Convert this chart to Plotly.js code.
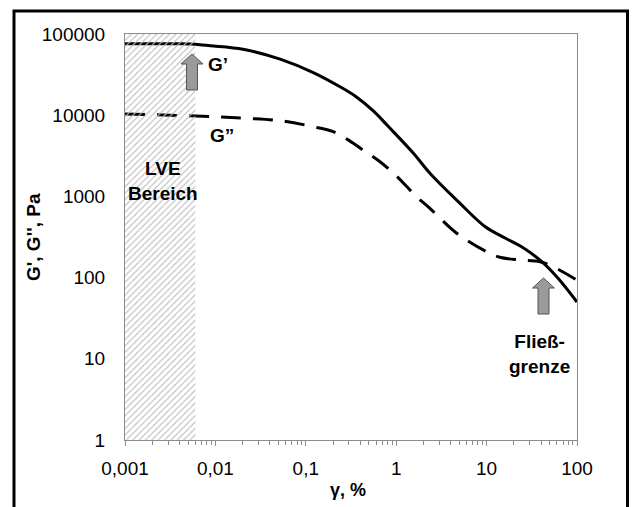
<!DOCTYPE html>
<html>
<head>
<meta charset="utf-8">
<script src="https://cdn.plot.ly/plotly-3.0.1.min.js"></script>
<style>html,body{margin:0;padding:0;background:#fff;}#chart{width:632px;height:507px;}</style>
</head>
<body>
<div id="chart"></div>
<script>
// ---- data ----
const gPrimeX = [0.001, 0.002, 0.004, 0.006, 0.0095, 0.0132, 0.0222, 0.052, 0.121, 0.239, 0.357, 0.558, 0.815, 1.55, 2.36, 5.08, 9.66, 16.2, 24.4, 40.8, 61.7, 100];
const gPrimeY = [76000, 76000, 76000, 75000, 71000, 69000, 63500, 49000, 33500, 22400, 17000, 11300, 7300, 3400, 1930, 822, 423, 305, 240, 157, 98, 50];
const gDoubleX = [0.001, 0.0095, 0.0222, 0.052, 0.121, 0.201, 0.30, 0.43, 0.662, 1.0, 1.68, 2.36, 4.67, 10, 14, 23.4, 39, 54.7, 100];
const gDoubleY = [10350, 9600, 9160, 8550, 7210, 6270, 4900, 3720, 2670, 1800, 990, 713, 352, 208, 178, 165, 157, 136, 93];
const lveRangeX = [0.001, 0.006];
const yRange = [1, 100000];
const xTickVals = [0.001, 0.01, 0.1, 1, 10, 100];
const xTickText = ["0,001", "0,01", "0,1", "1", "10", "100"];
const yTickVals = [1, 10, 100, 1000, 10000, 100000];
const yTickText = ["1", "10", "100", "1000", "10000", "100000"];

// ---- geometry helpers (pixel -> paper) ----
const L = 125, T = 34, W = 452, H = 406;
const px = x => (x - L) / W;
const py = y => (T + H - y) / H;
function arrowPath(cx, tipY) {
  const pts = [[cx, tipY], [cx + 11, tipY + 10], [cx + 5.5, tipY + 10], [cx + 5.5, tipY + 36],
               [cx - 5.5, tipY + 36], [cx - 5.5, tipY + 10], [cx - 11, tipY + 10]];
  return 'M' + pts.map(p => px(p[0]).toFixed(5) + ',' + py(p[1]).toFixed(5)).join(' L') + ' Z';
}

const font = "Liberation Sans, Arial, sans-serif";
function label(x, y, text, size, angle) {
  return {xref: 'paper', yref: 'paper', x: px(x), y: py(y), xanchor: 'center', yanchor: 'middle',
          text: text, showarrow: false, textangle: angle || 0, font: {family: font, size: size, color: '#000'}};
}

const traces = [
  {x: gPrimeX, y: gPrimeY, mode: 'lines', line: {color: '#000', width: 3, shape: 'spline', smoothing: 1}, hoverinfo: 'skip'},
  {x: gDoubleX, y: gDoubleY, mode: 'lines', line: {color: '#000', width: 3, dash: '20px,12px', shape: 'spline', smoothing: 1}, hoverinfo: 'skip'},
  {x: [lveRangeX[0], lveRangeX[1], lveRangeX[1], lveRangeX[0], lveRangeX[0]],
   y: [yRange[0], yRange[0], yRange[1], yRange[1], yRange[0]],
   mode: 'lines', fill: 'toself', line: {width: 0, color: 'rgba(0,0,0,0)'},
   fillcolor: 'rgba(0,0,0,0)',
   fillpattern: {shape: '/', fgcolor: '#bdbdbd', bgcolor: 'rgba(255,255,255,0)', size: 4.5, solidity: 0.25},
   hoverinfo: 'skip'}
];

const layout = {
  width: 632, height: 507,
  margin: {l: L, r: 632 - L - W, t: T, b: 507 - T - H},
  paper_bgcolor: '#fff', plot_bgcolor: '#fff',
  showlegend: false,
  font: {family: font, color: '#000'},
  xaxis: {
    type: 'log', range: [-3, 2], showgrid: false, zeroline: false,
    showline: true, linecolor: '#8c8c8c', linewidth: 1, mirror: true,
    ticks: 'outside', ticklen: 5, tickcolor: '#8c8c8c', tickwidth: 1,
    minor: {ticks: 'outside', ticklen: 4, tickcolor: '#8c8c8c', dtick: 'D1', showgrid: false},
    tickvals: xTickVals, ticktext: xTickText,
    tickfont: {family: font, size: 19, color: '#000'},
    ticklabelstandoff: 6
  },
  yaxis: {
    type: 'log', range: [0, 5], showgrid: false, zeroline: false,
    showline: true, linecolor: '#8c8c8c', linewidth: 1, mirror: true,
    ticks: '', tickvals: yTickVals, ticktext: yTickText,
    tickfont: {family: font, size: 19, color: '#000'},
    ticklabelstandoff: 15
  },
  annotations: [
    label(348, 490, '<b>γ, %</b>', 18),
    label(33, 237, "<b>G', G'', Pa</b>", 19, -90),
    label(218, 65, '<b>G’</b>', 19),
    label(222, 135, '<b>G”</b>', 19),
    label(163, 181, '<b>LVE<br>Bereich</b>', 19),
    label(539, 354, '<b>Fließ-<br>grenze</b>', 19)
  ],
  shapes: [
    {type: 'path', xref: 'paper', yref: 'paper', path: arrowPath(192, 54), fillcolor: '#9a9a9a', line: {color: '#555', width: 1}, layer: 'above'},
    {type: 'path', xref: 'paper', yref: 'paper', path: arrowPath(543.5, 278), fillcolor: '#9a9a9a', line: {color: '#555', width: 1}, layer: 'above'},
    {type: 'rect', xref: 'paper', yref: 'paper', x0: px(14), x1: px(627.5), y0: py(520), y1: py(11), line: {color: '#000', width: 3}, fillcolor: 'rgba(0,0,0,0)', layer: 'above'}
  ]
};

Plotly.newPlot('chart', traces, layout, {staticPlot: true, displayModeBar: false});
</script>
</body>
</html>
